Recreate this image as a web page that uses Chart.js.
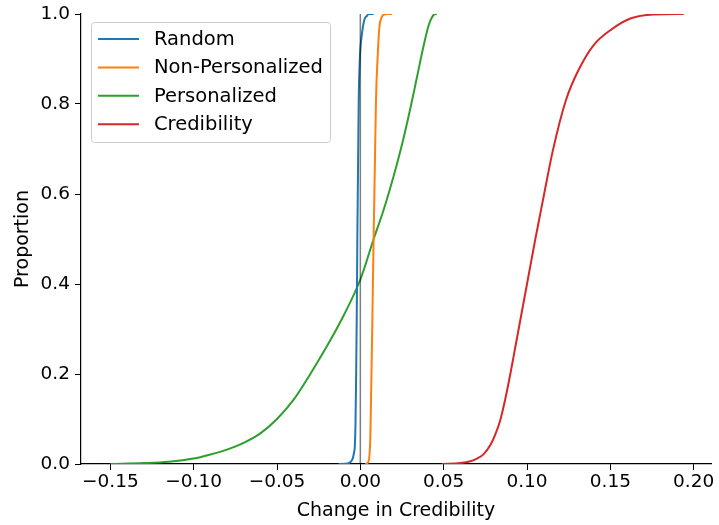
<!DOCTYPE html>
<html>
<head>
<meta charset="utf-8">
<script src="https://cdn.jsdelivr.net/npm/chart.js@4.4.1/dist/chart.umd.min.js"></script>
<style>
  html, body { margin: 0; padding: 0; background: #fff; }
  #wrap { width: 719px; height: 525px; position: relative; }
</style>
</head>
<body>
<div id="wrap"><canvas id="myChart"></canvas></div>
<script>
// ECDF curves: change in credibility vs cumulative proportion
var seriesNames = ['Random', 'Non-Personalized', 'Personalized', 'Credibility'];
var seriesColors = ['#1f77b4', '#ff7f0e', '#2ca02c', '#d62728'];

var xRandom = [-0.013, -0.009, -0.007, -0.0055, -0.0045, -0.0038, -0.0033, -0.0029, -0.0025, -0.0021, -0.0018, -0.001, -0.0003, 0.001, 0.0024, 0.004, 0.005, 0.008];
var yRandom = [0.0, 0.0005, 0.002, 0.006, 0.013, 0.025, 0.04, 0.09, 0.2, 0.35, 0.5, 0.8, 0.9, 0.957, 0.987, 0.996, 1.0, 1.0];

var xNonPers = [0.003, 0.0045, 0.0055, 0.006, 0.0064, 0.007, 0.0075, 0.008, 0.0087, 0.0094, 0.0106, 0.0114, 0.0125, 0.0138, 0.016, 0.019];
var yNonPers = [0.0, 0.003, 0.02, 0.06, 0.14, 0.27, 0.39, 0.51, 0.66, 0.81, 0.92, 0.97, 0.99, 0.998, 1.0, 1.0];

var xPers = [-0.15, -0.13, -0.115, -0.1, -0.09, -0.08, -0.07, -0.06, -0.05, -0.04, -0.03, -0.02, -0.01, 0.0, 0.008, 0.014, 0.02, 0.025, 0.03, 0.034, 0.038, 0.041, 0.043, 0.045, 0.046];
var yPers = [0.0, 0.002, 0.005, 0.012, 0.021, 0.032, 0.047, 0.068, 0.1, 0.143, 0.2, 0.262, 0.33, 0.41, 0.5, 0.565, 0.64, 0.71, 0.79, 0.86, 0.93, 0.975, 0.993, 1.0, 1.0];

var xCred = [0.049, 0.06, 0.066, 0.07, 0.074, 0.078, 0.081, 0.084, 0.087, 0.09, 0.093, 0.096, 0.1, 0.105, 0.1096, 0.1156, 0.1234, 0.131, 0.14, 0.15, 0.162, 0.176, 0.194];
var yCred = [0.0, 0.002, 0.006, 0.012, 0.022, 0.042, 0.066, 0.098, 0.145, 0.2, 0.26, 0.32, 0.40, 0.50, 0.587, 0.698, 0.809, 0.876, 0.931, 0.964, 0.99, 0.999, 1.0];

// vertical reference line at zero change
var xZero = [0, 0];
var yZero = [0, 1];

var xTicks = [-0.15, -0.10, -0.05, 0.00, 0.05, 0.10, 0.15, 0.20];
var yTicks = [0.0, 0.2, 0.4, 0.6, 0.8, 1.0];

function toPoints(xs, ys) {
  var pts = [];
  for (var i = 0; i < xs.length; i++) pts.push({ x: xs[i], y: ys[i] });
  return pts;
}

var allX = [xRandom, xNonPers, xPers, xCred];
var allY = [yRandom, yNonPers, yPers, yCred];

var datasets = [];
for (var i = 0; i < seriesNames.length; i++) {
  datasets.push({
    label: seriesNames[i],
    data: toPoints(allX[i], allY[i]),
    borderColor: seriesColors[i],
    backgroundColor: seriesColors[i],
    borderWidth: 2,
    pointRadius: 0,
    showLine: true,
    cubicInterpolationMode: 'monotone',
    order: 2
  });
}
datasets.push({
  label: '_zero',
  data: toPoints(xZero, yZero),
  borderColor: 'rgba(0,0,0,0.5)',
  borderWidth: 1.5,
  pointRadius: 0,
  showLine: true,
  order: 1
});

function fmt(v) {
  var s = Math.abs(v).toFixed(2);
  return (v < -1e-9 ? '\u2212' : '') + s;
}

// legend box drawn inside the plot, upper left
var boxLegend = {
  id: 'boxLegend',
  afterDraw: function(chart) {
    var ctx = chart.ctx;
    var x0 = 91, y0 = 22, w = 239, h = 120;
    ctx.save();
    ctx.fillStyle = 'rgba(255,255,255,0.8)';
    ctx.strokeStyle = '#cccccc';
    ctx.lineWidth = 1;
    ctx.beginPath();
    ctx.roundRect(x0 + 0.5, y0 + 0.5, w, h, 3);
    ctx.fill();
    ctx.stroke();
    ctx.font = '19.5px "DejaVu Sans"';
    ctx.textBaseline = 'middle';
    for (var i = 0; i < seriesNames.length; i++) {
      var yy = 39 + i * 28.4;
      ctx.strokeStyle = seriesColors[i];
      ctx.lineWidth = 2;
      ctx.beginPath();
      ctx.moveTo(98, yy);
      ctx.lineTo(139, yy);
      ctx.stroke();
      ctx.fillStyle = '#000';
      ctx.fillText(chart.data.datasets[i].label, 154, yy + 1);
    }
    ctx.restore();
  }
};

Chart.defaults.font.family = '"DejaVu Sans"';
Chart.defaults.color = '#000';

var ctx = document.getElementById('myChart').getContext('2d');
var myChart = new Chart(ctx, {
  type: 'scatter',
  data: { datasets: datasets },
  options: {
    responsive: true,
    maintainAspectRatio: false,
    animation: false,
    layout: { padding: { top: 14, right: 8, left: 0, bottom: 0 } },
    plugins: {
      legend: { display: false },
      tooltip: { enabled: false }
    },
    scales: {
      x: {
        type: 'linear',
        min: -0.1676,
        max: 0.2104,
        afterBuildTicks: function(scale) {
          scale.ticks = xTicks.map(function(v) { return { value: v }; });
        },
        afterFit: function(scale) { scale.height = 61; },
        ticks: {
          font: { size: 18.5 },
          padding: 1,
          maxRotation: 0,
          autoSkip: false,
          callback: function(v) { return fmt(v); }
        },
        grid: { drawOnChartArea: false, drawTicks: true, tickLength: 6, color: '#000', lineWidth: 1 },
        border: { display: true, color: '#000', width: 1.2 },
        title: { display: true, text: 'Change in Credibility', font: { size: 19 }, padding: { top: 2, bottom: 3 } }
      },
      y: {
        min: 0,
        max: 1,
        afterBuildTicks: function(scale) {
          scale.ticks = yTicks.map(function(v) { return { value: v }; });
        },
        afterFit: function(scale) {
          scale.width = 81;
          scale.paddingTop = 0;
        },
        ticks: {
          font: { size: 18.5 },
          padding: 5,
          callback: function(v) { return v.toFixed(1); }
        },
        grid: { drawOnChartArea: false, drawTicks: true, tickLength: 6, color: '#000', lineWidth: 1 },
        border: { display: true, color: '#000', width: 1.2 },
        title: { display: true, text: 'Proportion', font: { size: 19 }, padding: { top: 12, bottom: 0 } }
      }
    }
  },
  plugins: [boxLegend]
});
</script>
</body>
</html>
